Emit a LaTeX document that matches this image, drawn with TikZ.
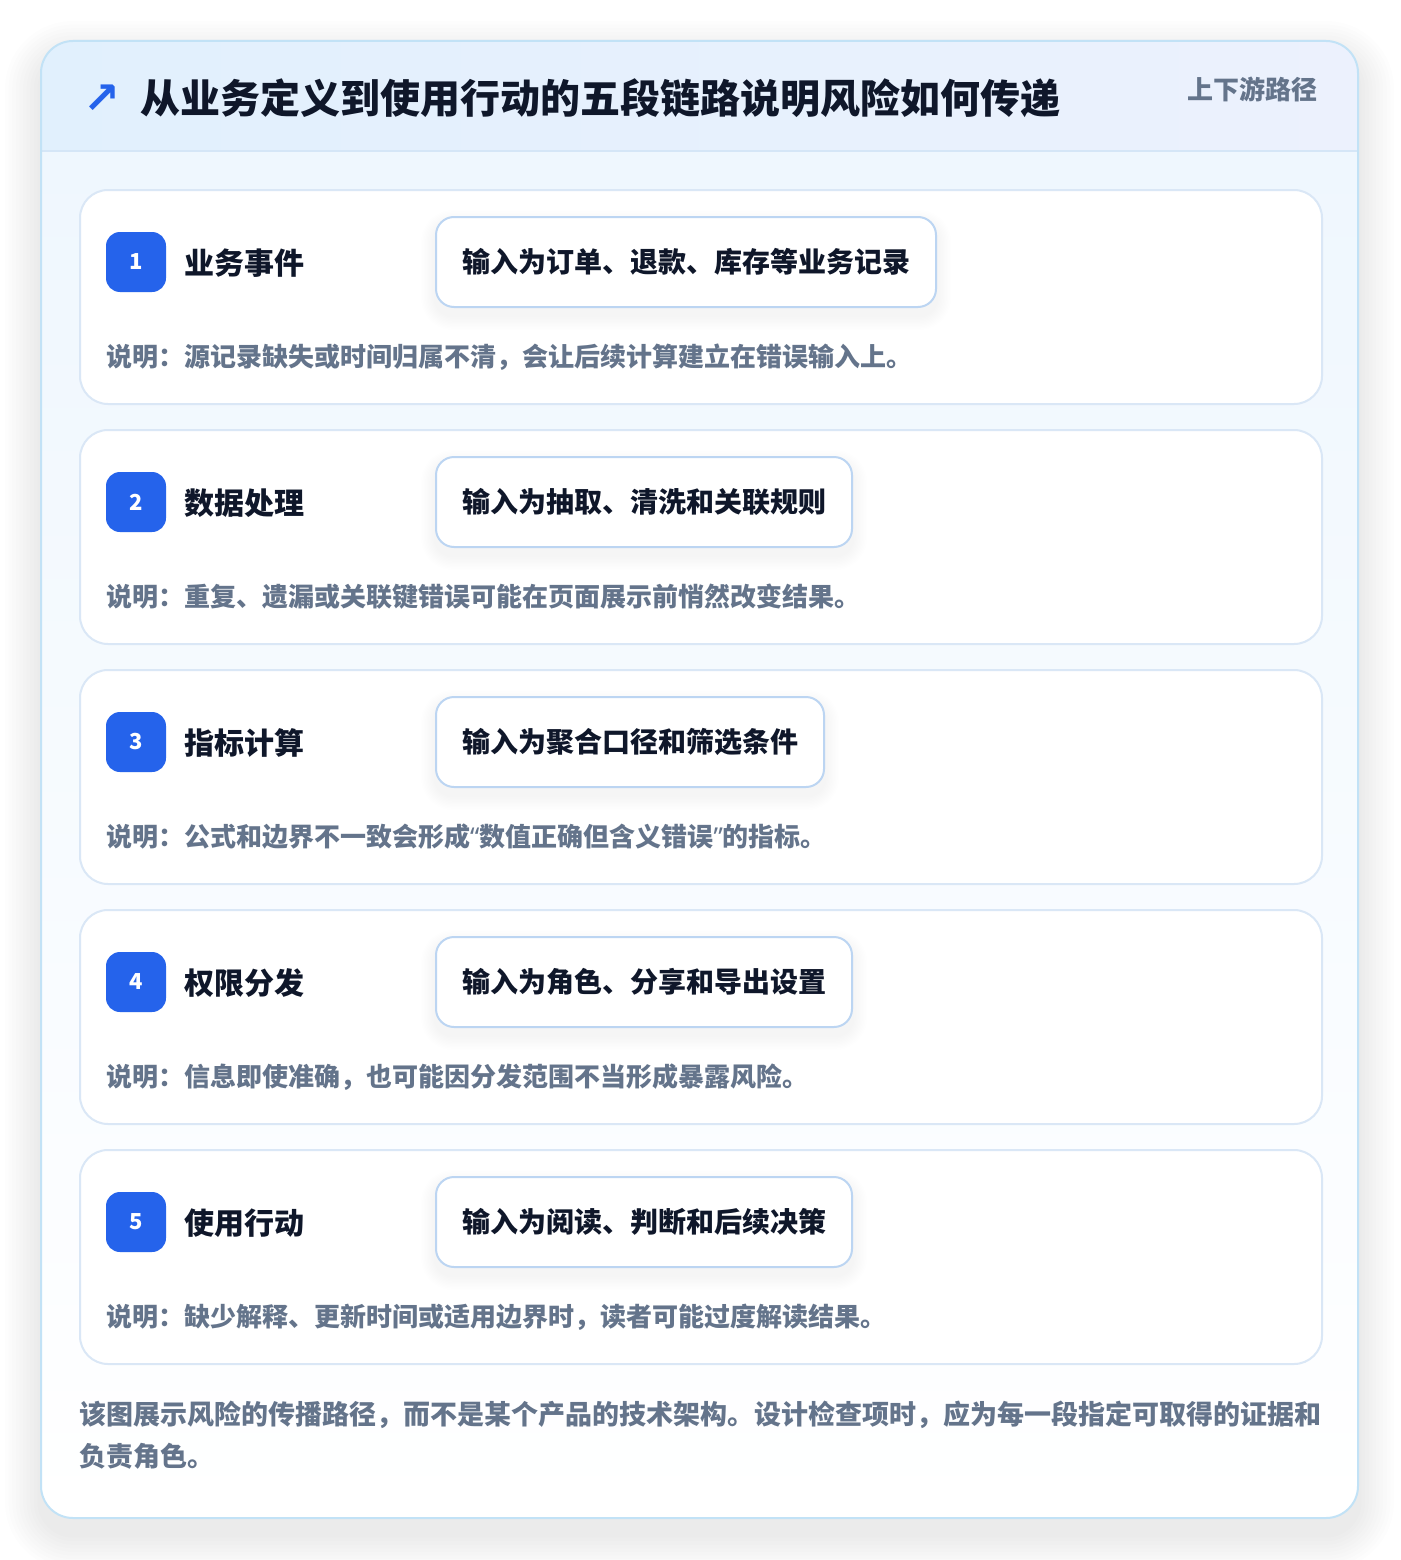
\documentclass[tikz,border=0pt]{standalone}
\usepackage{fontspec}
\setmainfont{Noto Sans CJK SC}
\newfontfamily\symfont{DejaVu Sans}
\newfontfamily\latinfont{Noto Sans}
\definecolor{inkdark}{HTML}{0F172A}
\definecolor{inkgray}{HTML}{64748B}
\definecolor{badgeblue}{HTML}{2563EB}
\definecolor{outerline}{HTML}{C2E2F6}
\definecolor{headleft}{HTML}{E1F0FD}
\definecolor{headright}{HTML}{ECF1FD}
\definecolor{headline}{HTML}{D5E6F7}
\definecolor{bodytop}{HTML}{EFF7FE}
\definecolor{cardline}{HTML}{DAE7F6}
\definecolor{boxline}{HTML}{BCD5F2}
\newcommand{\openq}{{\latinfont “}}
\newcommand{\closeq}{{\latinfont ”}}
\pgfdeclarelayer{bg}
\pgfdeclarelayer{shadow}
\pgfdeclarelayer{frame}
\pgfdeclarelayer{boxshadow}
\pgfsetlayers{bg,shadow,frame,boxshadow,main}
% soft shadow: layer, corner a, corner b, radius, drop, spread, opacity per step
\newcommand{\softshadow}[7]{%
  \begin{pgfonlayer}{#1}
  \foreach \k in {1,...,10}{
    \pgfmathsetmacro{\sp}{\k*#6/10}
    \pgfmathsetmacro{\rr}{#4+\sp}
    \fill[black,opacity=#7,rounded corners=\rr pt]
      ([xshift=-\sp pt,yshift=\sp pt-#5pt]#2) rectangle ([xshift=\sp pt,yshift=-\sp pt-#5pt]#3);
  }
  \end{pgfonlayer}}

\begin{document}
\begin{tikzpicture}[x=1pt,y=-1pt,
  card/.style={draw=cardline,line width=2pt,fill=white,rounded corners=28pt,
    minimum width=1242pt,minimum height=214pt,anchor=north west,inner sep=0pt},
  badge/.style={fill=badgeblue,rounded corners=14pt,minimum size=60pt,inner sep=0pt,
    text=white,font=\bfseries\fontsize{22}{26}\selectfont},
  stepname/.style={anchor=west,inner sep=0pt,text=inkdark,font=\bfseries\fontsize{30}{36}\selectfont},
  inbox/.style={anchor=west,draw=boxline,line width=2pt,fill=white,rounded corners=18pt,
    minimum height=90pt,inner xsep=26pt,text=inkdark,font=\bfseries\fontsize{28}{34}\selectfont},
  note/.style={anchor=west,inner sep=0pt,text=inkgray,font=\bfseries\fontsize{26}{32}\selectfont},
  foot/.style={anchor=west,inner sep=0pt,text=inkgray,font=\bfseries\fontsize{27}{33}\selectfont}]

\useasboundingbox (0,0) rectangle (1400,1560);
\begin{pgfonlayer}{bg}
\fill[white] (0,0) rectangle (1400,1560);
\end{pgfonlayer}

%outer card
\coordinate (frametl) at (41,41);
\coordinate (framebr) at (1358,1518);
\softshadow{shadow}{frametl}{framebr}{32}{16}{36}{0.007}
\begin{pgfonlayer}{frame}
\path[fill=white,rounded corners=32pt] (frametl) rectangle (framebr);
\begin{scope}
\clip[rounded corners=32pt] (frametl) rectangle (framebr);
\shade[left color=headleft,right color=headright] (41,41) rectangle (1358,151);
\shade[top color=bodytop,bottom color=white] (41,151) rectangle (1358,1518);
\end{scope}
\draw[headline,line width=2pt] (41,151) -- (1358,151);
\draw[outerline,line width=2pt,rounded corners=32pt] (frametl) rectangle (framebr);

%cards
\node[card] (card1) at (79,189) {};
\node[card] (card2) at (79,429) {};
\node[card] (card3) at (79,669) {};
\node[card] (card4) at (79,909) {};
\node[card] (card5) at (79,1149) {};
\end{pgfonlayer}

%header
\node[text=badgeblue,inner sep=0pt,font=\symfont\bfseries\fontsize{44}{50}\selectfont] (icon) at (102,99) {↗};
\node[anchor=west,inner sep=0pt,text=inkdark,font=\bfseries\fontsize{40}{48}\selectfont] (title) at (140,98)
  {从业务定义到使用行动的五段链路说明风险如何传递};
\node[anchor=east,inner sep=0pt,text=inkgray,font=\bfseries\fontsize{26}{32}\selectfont] (tag) at (1318,89)
  {上下游路径};

%step 1
\node[badge] (num1) at (136,262) {1};
\node[stepname] (name1) at (184,263) {业务事件};
\node[inbox] (in1) at (435,262) {输入为订单、退款、库存等业务记录};
\softshadow{boxshadow}{in1.north west}{in1.south east}{18}{8}{14}{0.005}
\node[note] (note1) at (106,357) {说明：源记录缺失或时间归属不清，会让后续计算建立在错误输入上。};

%step 2
\node[badge] (num2) at (136,502) {2};
\node[stepname] (name2) at (184,503) {数据处理};
\node[inbox] (in2) at (435,502) {输入为抽取、清洗和关联规则};
\softshadow{boxshadow}{in2.north west}{in2.south east}{18}{8}{14}{0.005}
\node[note] (note2) at (106,597) {说明：重复、遗漏或关联键错误可能在页面展示前悄然改变结果。};

%step 3
\node[badge] (num3) at (136,742) {3};
\node[stepname] (name3) at (184,743) {指标计算};
\node[inbox] (in3) at (435,742) {输入为聚合口径和筛选条件};
\softshadow{boxshadow}{in3.north west}{in3.south east}{18}{8}{14}{0.005}
\node[note] (note3) at (106,837) {说明：公式和边界不一致会形成\openq 数值正确但含义错误\closeq 的指标。};

%step 4
\node[badge] (num4) at (136,982) {4};
\node[stepname] (name4) at (184,983) {权限分发};
\node[inbox] (in4) at (435,982) {输入为角色、分享和导出设置};
\softshadow{boxshadow}{in4.north west}{in4.south east}{18}{8}{14}{0.005}
\node[note] (note4) at (106,1077) {说明：信息即使准确，也可能因分发范围不当形成暴露风险。};

%step 5
\node[badge] (num5) at (136,1222) {5};
\node[stepname] (name5) at (184,1223) {使用行动};
\node[inbox] (in5) at (435,1222) {输入为阅读、判断和后续决策};
\softshadow{boxshadow}{in5.north west}{in5.south east}{18}{8}{14}{0.005}
\node[note] (note5) at (106,1317) {说明：缺少解释、更新时间或适用边界时，读者可能过度解读结果。};

%footer
\node[foot] (foot1) at (79,1415) {该图展示风险的传播路径，而不是某个产品的技术架构。设计检查项时，应为每一段指定可取得的证据和};
\node[foot] (foot2) at (79,1456) {负责角色。};
\end{tikzpicture}
\end{document}
